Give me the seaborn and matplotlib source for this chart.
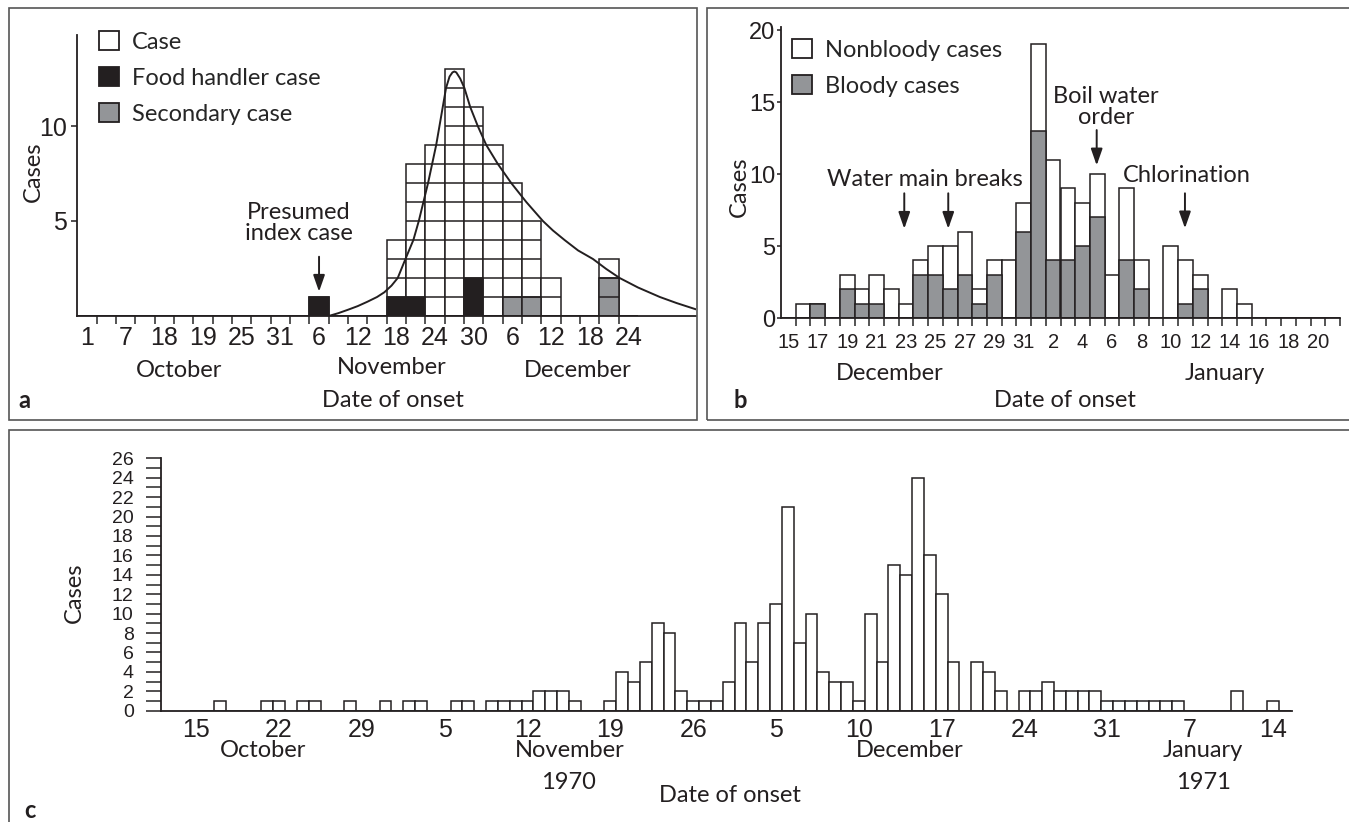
import matplotlib
matplotlib.use("Agg")
import matplotlib.pyplot as plt
from matplotlib.patches import Rectangle, Patch
import seaborn as sns

# ---------------- data ----------------
# panel a: cases per 3-day interval, October - December
a_bins = list(range(29))
a_cases = [0, 0, 0, 0, 0, 0, 0, 0, 0, 0, 0, 0, 1, 0, 0, 0, 4, 8, 9, 13,
           11, 9, 7, 5, 2, 0, 0, 3, 0]
a_food_handler = [0, 0, 0, 0, 0, 0, 0, 0, 0, 0, 0, 0, 1, 0, 0, 0, 1, 1, 0, 0,
                  2, 0, 0, 0, 0, 0, 0, 0, 0]
a_secondary = [0, 0, 0, 0, 0, 0, 0, 0, 0, 0, 0, 0, 0, 0, 0, 0, 0, 0, 0, 0,
               0, 0, 1, 1, 0, 0, 0, 2, 0]
a_tick_bins = list(range(0, 29, 2))
a_tick_labels = ["1", "7", "18", "19", "25", "31", "6", "12", "18", "24",
                 "30", "6", "12", "18", "24"]
# epidemic curve drawn over panel a
curve_x = [12.5, 13.0, 13.5, 14.0, 14.5, 15.0, 15.38, 15.75, 16.07, 16.47,
           16.88, 17.16, 17.4, 17.64, 17.85, 18.06, 18.23, 18.4, 18.57, 18.75,
           18.9, 19.0, 19.1, 19.3, 19.52, 19.82, 20.21, 20.65, 21.25, 21.94,
           22.72, 23.58, 24.1, 24.7, 25.4, 26.17, 26.85, 27.55, 28.5, 29.63,
           30.5, 31.5]
curve_y = [0.0, 0.15, 0.33, 0.52, 0.75, 1.0, 1.25, 1.6, 2.0, 3.0,
           4.0, 5.0, 6.0, 7.0, 8.0, 9.0, 10.0, 11.0, 12.0, 12.6,
           12.82, 12.87, 12.82, 12.5, 12.0, 11.0, 10.0, 9.0, 8.0, 7.0,
           6.0, 5.0, 4.5, 4.0, 3.45, 3.0, 2.48, 2.0, 1.5, 1.0,
           0.68, 0.35]

# panel b: daily cases from 15 December
b_days = list(range(38))
b_total = [0, 1, 1, 0, 3, 2, 3, 2, 1, 4, 5, 5, 6, 2, 4, 4, 8, 19, 11, 9,
           8, 10, 3, 9, 4, 0, 5, 4, 3, 0, 2, 1, 0, 0, 0, 0, 0, 0]
b_bloody = [0, 0, 1, 0, 2, 1, 1, 0, 0, 3, 3, 2, 3, 1, 3, 0, 6, 13, 4, 4,
            5, 7, 0, 4, 2, 0, 0, 1, 2, 0, 0, 0, 0, 0, 0, 0, 0, 0]
b_tick_days = list(range(0, 37, 2))
b_tick_labels = ["15", "17", "19", "21", "23", "25", "27", "29", "31", "2",
                 "4", "6", "8", "10", "12", "14", "16", "18", "20"]

# panel c: daily cases from 15 October 1970
c_days = list(range(93))
c_cases = [0, 0, 1, 0, 0, 0, 1, 1, 0, 1, 1, 0, 0, 1, 0, 0, 1, 0, 1, 1,
           0, 0, 1, 1, 0, 1, 1, 1, 1, 2, 2, 2, 1, 0, 0, 1, 4, 3, 5, 9,
           8, 2, 1, 1, 1, 3, 9, 5, 9, 11, 21, 7, 10, 4, 3, 3, 1, 10, 5, 15,
           14, 24, 16, 12, 5, 0, 5, 4, 2, 0, 2, 2, 3, 2, 2, 2, 2, 1, 1, 1,
           1, 1, 1, 1, 0, 0, 0, 0, 2, 0, 0, 1, 0]
c_tick_days = list(range(0, 92, 7))
c_tick_labels = ["15", "22", "29", "5", "12", "19", "26", "5", "10", "17",
                 "24", "31", "7", "14"]

# ---------------- style ----------------
sns.set_style("ticks")
plt.rcParams["font.family"] = ["Lato", "DejaVu Sans"]
NARROW = ["Liberation Sans Narrow", "Liberation Sans", "DejaVu Sans"]
INK = "#231f20"
GREY = "#939598"
FRAME = "#555555"
W, H = 1349, 822

fig = plt.figure(figsize=(W / 100, H / 100), dpi=100)


def px_axes(left, top, right, bottom):
    return fig.add_axes([left / W, 1 - bottom / H, (right - left) / W, (bottom - top) / H])


def label(x, y, s, **kw):
    kw.setdefault("ha", "center")
    kw.setdefault("va", "center")
    kw.setdefault("fontsize", 17)
    fig.text(x / W, 1 - y / H, s, color=INK, **kw)


def style_axes(ax):
    sns.despine(ax=ax)
    for side in ("left", "bottom"):
        ax.spines[side].set_color(INK)
        ax.spines[side].set_linewidth(1.3)
    ax.set_xlabel("")
    ax.set_ylabel("")
    ax.patch.set_alpha(0)
    ax.tick_params(colors=INK, labelcolor=INK)


def arrow(ax, x, tail, tip):
    ax.annotate("", xy=(x, tip), xytext=(x, tail),
                arrowprops=dict(arrowstyle="-|>,head_length=1.0,head_width=0.35",
                                color=INK, lw=1.4, shrinkA=0, shrinkB=0))


bar_kw = dict(native_scale=True, width=1, saturation=1, errorbar=None,
              edgecolor=INK, linewidth=1.1)
legend_kw = dict(loc="upper left", bbox_transform=fig.transFigure, frameon=False,
                 fontsize=17, handlelength=0.85, handleheight=0.85,
                 handletextpad=0.55, labelspacing=0.62, borderpad=0, borderaxespad=0)

# panel frames
for l, t, r, b in [(9, 8, 697, 420), (707, 8, 1352, 420), (9, 430, 1352, 830)]:
    fig.add_artist(Rectangle((l / W, 1 - b / H), (r - l) / W, (b - t) / H,
                             transform=fig.transFigure, fill=False, ec=FRAME, lw=1.2))

# ---------------- panel a ----------------
ax_a = px_axes(77.4, 316 - 14.8 * 19, 696, 316)
sns.barplot(x=a_bins, y=a_cases, color="white", ax=ax_a, **bar_kw)
sns.barplot(x=a_bins, y=a_food_handler, color=INK, ax=ax_a, **bar_kw)
sns.barplot(x=a_bins, y=a_secondary, color=GREY, ax=ax_a, **bar_kw)
for i, h in zip(a_bins, a_cases):
    if h > 1:
        ax_a.hlines(list(range(1, h)), i - 0.5, i + 0.5, color=INK, lw=1.1, zorder=3)
sns.lineplot(x=curve_x, y=curve_y, sort=False, estimator=None, color=INK,
             lw=1.4, ax=ax_a, zorder=4)
style_axes(ax_a)
ax_a.set_xlim(-0.5, 31.5)
ax_a.set_ylim(0, 14.8)
ax_a.set_xticks([d + 0.5 for d in a_bins[:-1]], minor=True)
ax_a.set_xticks(a_tick_bins, a_tick_labels, fontsize=18, fontfamily=NARROW)
ax_a.tick_params(axis="x", which="major", length=0, pad=7)
ax_a.tick_params(axis="x", which="minor", length=6, width=1.1)
ax_a.set_yticks([5, 10], ["5", "10"], fontsize=18, fontfamily=NARROW)
ax_a.tick_params(axis="y", length=4.5, width=1.1, pad=3)
arrow(ax_a, 12, 3.12, 1.28)
ax_a.text(10.97, 4.9, "Presumed\nindex case", ha="center", va="center",
          fontsize=17, linespacing=1.0, color=INK)
ax_a.legend([Patch(fc="white", ec=INK, lw=1.3), Patch(fc=INK, ec=INK, lw=1.3),
             Patch(fc=GREY, ec=INK, lw=1.3)],
            ["Case", "Food handler case", "Secondary case"],
            bbox_to_anchor=(99 / W, 1 - 31 / H), **legend_kw)
label(33, 172, "Cases", rotation=90)
label(179.5, 370, "October")
label(392, 367, "November")
label(578, 370, "December")
label(393, 400, "Date of onset")
label(24, 400, "a", fontweight="bold")

# ---------------- panel b ----------------
ax_b = px_axes(781, 318 - 20.2 * 14.4, 1340, 318)
sns.barplot(x=b_days, y=b_total, color="white", ax=ax_b, **bar_kw)
sns.barplot(x=b_days, y=b_bloody, color=GREY, ax=ax_b, **bar_kw)
style_axes(ax_b)
ax_b.set_xlim(-0.5, 37.5)
ax_b.set_ylim(0, 20.2)
ax_b.set_xticks([d + 0.5 for d in b_days], minor=True)
ax_b.set_xticks(b_tick_days, b_tick_labels, fontsize=14.5, fontfamily=NARROW)
ax_b.tick_params(axis="x", which="major", length=0, pad=11)
ax_b.tick_params(axis="x", which="minor", length=6, width=1.1)
ax_b.set_yticks([0, 5, 10, 15, 20], ["0", "5", "10", "15", "20"],
                fontsize=17, fontfamily=NARROW)
ax_b.tick_params(axis="y", length=3.2, width=1.1, pad=1)
arrow(ax_b, 7.88, 8.66, 6.2)
arrow(ax_b, 10.87, 8.66, 6.2)
ax_b.text(9.29, 9.63, "Water main breaks", ha="center", va="center", fontsize=17, color=INK)
arrow(ax_b, 20.96, 13.05, 10.6)
ax_b.text(21.57, 14.67, "Boil water\norder", ha="center", va="center",
          fontsize=17, linespacing=1.0, color=INK)
arrow(ax_b, 26.96, 8.66, 6.23)
ax_b.text(27.08, 9.93, "Chlorination", ha="center", va="center", fontsize=17, color=INK)
ax_b.legend([Patch(fc="white", ec=INK, lw=1.3), Patch(fc=GREY, ec=INK, lw=1.3)],
            ["Nonbloody cases", "Bloody cases"],
            bbox_to_anchor=(792 / W, 1 - 39 / H), **legend_kw)
label(739, 187, "Cases", rotation=90)
label(890, 373, "December")
label(1225, 373, "January")
label(1065, 400, "Date of onset")
label(740, 400, "b", fontweight="bold")

# ---------------- panel c ----------------
ax_c = px_axes(160.8, 458.3, 1291.8, 710.7)
sns.barplot(x=c_days, y=c_cases, color="white", ax=ax_c, **bar_kw)
style_axes(ax_c)
ax_c.set_xlim(-3, 92.6)
ax_c.set_ylim(0, 26)
ax_c.set_xticks(c_tick_days, c_tick_labels, fontsize=18, fontfamily=NARROW)
ax_c.tick_params(axis="x", length=0, pad=5)
ax_c.set_yticks(list(range(0, 27)), minor=True)
ax_c.set_yticks(list(range(0, 27, 2)), [str(v) for v in range(0, 27, 2)],
                fontsize=14, fontfamily=NARROW)
ax_c.tick_params(axis="y", which="both", length=11, width=1.1, pad=8.5)
label(74, 593, "Cases", rotation=90)
label(263, 750, "October")
label(570, 750, "November")
label(910, 750, "December")
label(1203, 750, "January")
label(568, 782, "1970")
label(1203, 782, "1971")
label(730, 795, "Date of onset")
label(30, 810, "c", fontweight="bold")

fig.savefig("out.png", dpi=100)
